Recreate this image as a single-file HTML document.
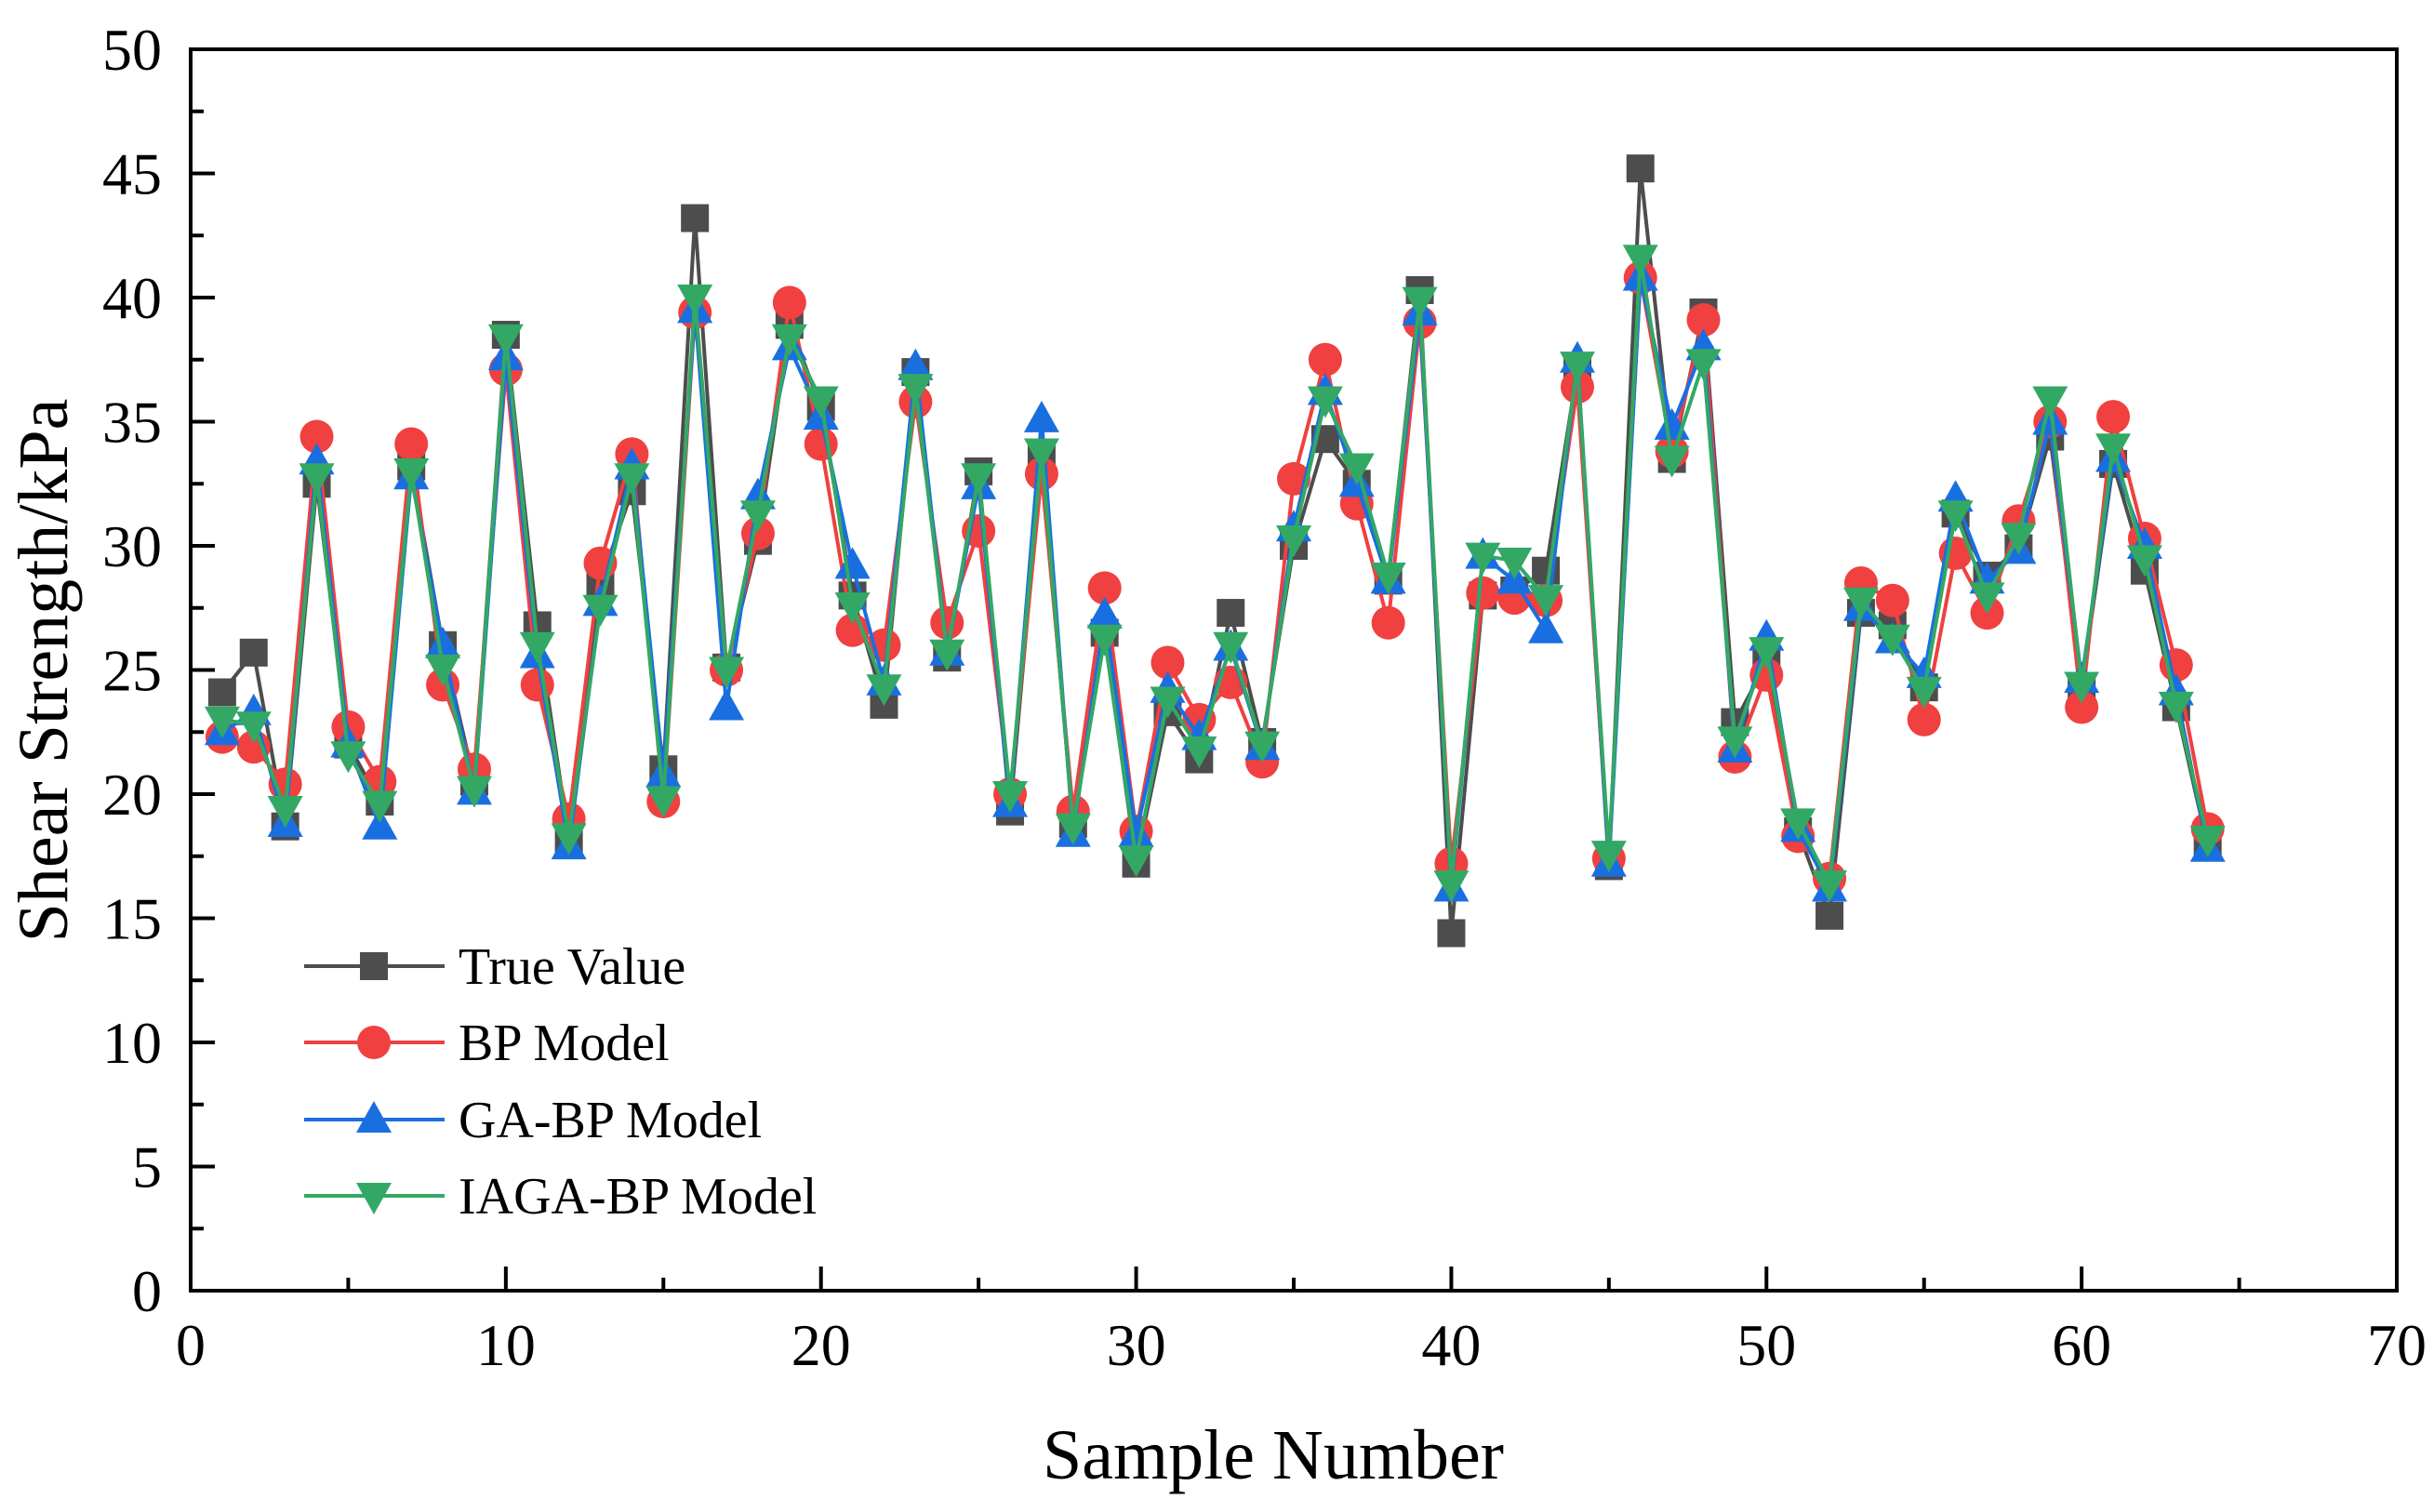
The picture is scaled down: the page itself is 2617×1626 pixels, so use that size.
<!DOCTYPE html>
<html><head><meta charset="utf-8"><style>
html,body{margin:0;padding:0;background:#fff;}
svg{display:block;font-family:"Liberation Serif",serif;}
</style></head><body>
<svg id="chart" width="2617" height="1626" xmlns="http://www.w3.org/2000/svg"></svg>
<script>
const samples = Array.from({length:64},(_,i)=>i+1);
const trueValue = [24.1,25.7,18.7,32.5,22.0,19.7,33.2,26.0,20.5,38.5,26.8,18.2,28.5,32.2,21.0,43.2,25.1,30.2,38.9,35.6,28.0,23.6,37.0,25.5,33.0,19.3,33.5,18.8,26.5,17.2,23.3,21.4,27.3,22.1,30.0,34.3,32.5,28.6,40.3,14.4,28.0,28.2,29.0,37.1,17.1,45.2,33.5,39.4,22.9,25.3,18.5,15.1,27.3,26.8,24.3,31.3,28.8,29.9,34.4,24.3,33.3,29.0,23.5,17.9];
const bpModel = [22.3,21.9,20.4,34.4,22.7,20.5,34.1,24.4,21.0,37.1,24.4,19.0,29.3,33.7,19.7,39.4,25.0,30.5,39.8,34.1,26.6,26.0,35.8,26.9,30.6,20.0,32.9,19.3,28.3,18.5,25.3,23.0,24.5,21.3,32.7,37.5,31.7,26.9,39.0,17.2,28.1,27.9,27.8,36.4,17.4,40.8,33.8,39.1,21.5,24.8,18.3,16.6,28.5,27.8,23.0,29.7,27.3,31.0,35.0,23.5,35.2,30.3,25.2,18.6];
const gaModel = [22.5,23.3,18.8,33.4,22.0,18.7,32.8,26.0,20.1,37.6,25.6,17.9,27.7,33.2,20.8,39.5,23.5,32.0,38.0,35.2,29.2,24.5,37.2,25.7,32.4,19.6,35.1,18.4,27.2,18.4,24.2,22.3,25.9,21.9,30.7,36.2,32.5,28.6,39.4,16.2,29.6,28.6,26.6,37.5,17.2,40.8,34.8,38.0,21.8,26.3,18.6,16.2,27.5,26.2,24.8,31.9,28.6,29.8,35.0,24.6,33.5,30.0,24.1,17.8];
const iagaModel = [23.0,22.8,19.4,32.8,21.6,19.6,33.0,25.1,20.2,38.4,26.0,18.3,27.5,32.8,19.8,40.0,25.0,31.3,38.4,35.9,27.6,24.3,36.4,25.7,32.8,20.0,33.8,18.7,26.3,17.4,23.8,21.8,26.0,22.0,30.3,35.9,33.2,28.8,39.9,16.4,29.6,29.4,27.9,37.3,17.6,41.6,33.5,37.4,22.2,25.8,18.9,16.4,27.8,26.3,24.2,31.3,28.0,30.4,35.9,24.4,34.0,29.5,23.6,18.2];
const xTicks = [0,10,20,30,40,50,60,70];
const yTicks = [0,5,10,15,20,25,30,35,40,45,50];
const seriesNames = ["True Value","BP Model","GA-BP Model","IAGA-BP Model"];

const L=205,R=2577,T=53,B=1388;
const xs=v=>L+(v-0)/(70-0)*(R-L);
const ys=v=>B-(v-0)/(50-0)*(B-T);
const svg=document.getElementById('chart');
const NS="http://www.w3.org/2000/svg";
function mk(tag,attrs,parent){const e=document.createElementNS(NS,tag);for(const k in attrs)e.setAttribute(k,attrs[k]);(parent||svg).appendChild(e);return e;}

const frame=mk('rect',{x:L,y:T,width:R-L,height:B-T,fill:'none',stroke:'#000','stroke-width':4});



xTicks.forEach(t=>{
  const x=xs(t);
  const tk=mk('line',{x1:x,x2:x,y1:B,y2:B-26,stroke:'#000','stroke-width':4});
  
  
  const lb=mk('text',{x:x,y:1468,'font-size':64,'text-anchor':'middle'});
  lb.textContent=t;
  
  
  if(t<70){
    const m=mk('line',{x1:xs(t+5),x2:xs(t+5),y1:B,y2:B-14,stroke:'#000','stroke-width':4});
    
    
  }
});
yTicks.forEach(t=>{
  const y=ys(t);
  const tk=mk('line',{x1:L,x2:L+26,y1:y,y2:y,stroke:'#000','stroke-width':4});
  
  
  const lb=mk('text',{x:174,y:y+22,'font-size':64,'text-anchor':'end'});
  lb.textContent=t;
  
  
  if(t<50){
    const m=mk('line',{x1:L,x2:L+14,y1:ys(t+2.5),y2:ys(t+2.5),stroke:'#000','stroke-width':4});
    
    
  }
});
const xt=mk('text',{x:1369,y:1590,'font-size':76,'text-anchor':'middle'});
xt.textContent='Sample Number';


const yt=mk('text',{x:0,y:0,'font-size':76,'text-anchor':'middle',transform:'translate(72,721) rotate(-90)'});
yt.textContent='Shear Strength/kPa';



const colors=['#4d4d4d','#f04040','#1a6fe0','#33a865'];
const data=[trueValue,bpModel,gaModel,iagaModel];
const keys=['true-value','bp-model','ga-bp-model','iaga-bp-model'];
function marker(kind,cx,cy,color,g){
  let e;
  if(kind===0) e=mk('rect',{x:cx-15,y:cy-15,width:30,height:30,fill:color},g);
  else if(kind===1) e=mk('circle',{cx:cx,cy:cy,r:18,fill:color},g);
  else if(kind===2) e=mk('polygon',{points:`${cx},${cy-20} ${cx-19},${cy+14} ${cx+19},${cy+14}`,fill:color},g);
  else e=mk('polygon',{points:`${cx},${cy+20} ${cx-19},${cy-14} ${cx+19},${cy-14}`,fill:color},g);
  return e;
}
data.forEach((arr,k)=>{
  const g=mk('g',{});
  
  
  const pts=arr.map((v,i)=>xs(samples[i])+','+ys(v)).join(' ');
  const pl=mk('polyline',{points:pts,fill:'none',stroke:colors[k],'stroke-width':4,'stroke-linejoin':'round'},g);
  
  
  arr.forEach((v,i)=>{
    const m=marker(k,xs(samples[i]),ys(v),colors[k],g);
    
    
  });
});
const lg=mk('g',{});


const legY=[1039,1121,1204,1286];
seriesNames.forEach((n,k)=>{
  const y=legY[k];
  const g=mk('g',{},lg);
  
  
  mk('line',{x1:327,x2:478,y1:y,y2:y,stroke:colors[k],'stroke-width':4},g);
  marker(k,402,y,colors[k],g);
  const t=mk('text',{x:493,y:y+19,'font-size':56},g);
  t.textContent=n;
  
  
});
</script>
</body></html>
